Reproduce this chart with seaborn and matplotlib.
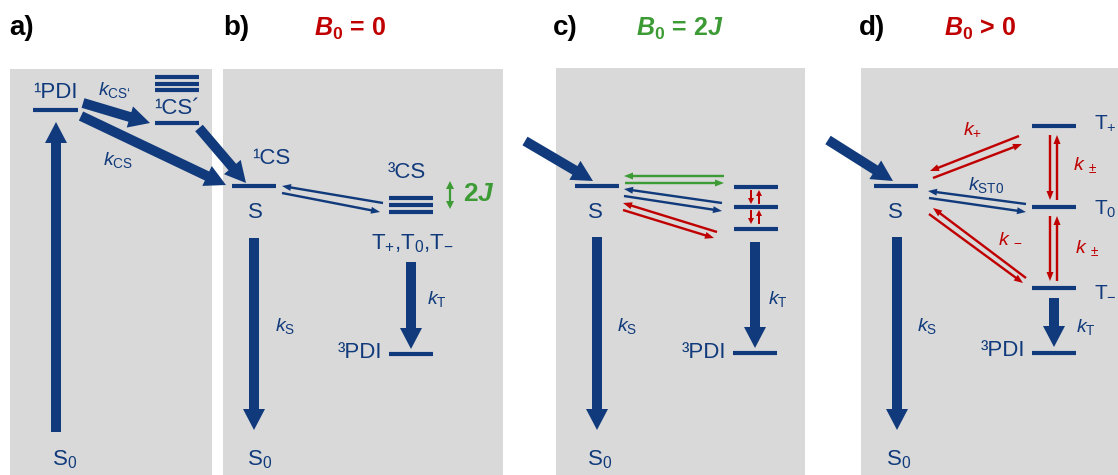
import matplotlib
matplotlib.use("Agg")
import matplotlib.pyplot as plt
import pandas as pd
import seaborn as sns

blue = "#103a7b"
red = "#c00000"
green = "#3c9b35"
panel_grey = "#d9d9d9"

# panel boxes (left, right, top) in pixel units
panel_left = [10, 223, 556, 861]
panel_right = [212, 503, 805, 1130]
panel_top = [69, 69, 68, 68]

# energy levels: x start, x end, y
level_x0 = [33, 155, 155, 155, 155, 232, 389, 389, 389, 389,
            575, 734, 734, 734, 733, 874, 1032, 1032, 1032, 1032]
level_x1 = [78, 199, 199, 199, 199, 276, 433, 433, 433, 433,
            619, 778, 778, 778, 777, 918, 1076, 1076, 1076, 1076]
level_y = [110, 77, 84, 90, 123, 186, 198, 205, 212, 354,
           186, 187, 207, 229, 353, 186, 126, 207, 288, 353]

# thick rate arrows (tail -> tip)
big_x0 = [56, 83, 81, 199, 254, 411, 525, 597, 755, 828, 897, 1054]
big_y0 = [432, 103, 116, 128, 238, 262, 141, 237, 242, 140, 237, 298]
big_x1 = [56, 150, 226, 246, 254, 411, 593, 597, 755, 893, 897, 1054]
big_y1 = [122, 123, 185, 183, 430, 349, 181, 430, 348, 181, 430, 347]

# thin transfer arrows (tail -> tip)
thin_x0 = [383, 282, 724, 625, 722, 624, 717, 623, 1019, 933, 1026, 929, 1026, 929,
           1050, 1057, 1050, 1057]
thin_y0 = [203, 193, 176, 183, 203, 196, 232, 210, 136, 178, 204, 198, 278, 214,
           135, 200, 216, 281]
thin_x1 = [282, 380, 624, 724, 624, 722, 623, 714, 930, 1022, 928, 1026, 933, 1023,
           1050, 1057, 1050, 1057]
thin_y1 = [186, 212, 176, 183, 189, 211, 203, 238, 171, 144, 191, 212, 208, 283,
           200, 135, 281, 216]
thin_color = [blue, blue, green, green, blue, blue, red, red, red, red, blue, blue,
              red, red, red, red, red, red]

# little spin flip arrows in panel c
spin_x = [751, 759, 751, 759]
spin_y0 = [190, 204, 210, 224]
spin_y1 = [204, 190, 224, 210]

# text labels: x, y, text, colour, size, ha
labels = [
    (22, 28, "a)", "black", 20, "center"),
    (236, 28, "b)", "black", 20, "center"),
    (565, 28, "c)", "black", 20, "center"),
    (872, 28, "d)", "black", 20, "center"),
    (350, 29, r"$\mathbfit{B}_\mathbf{0}$ = 0", red, 18, "center"),
    (680, 29, r"$\mathbfit{B}_\mathbf{0}$ = 2$\mathbfit{J}$", green, 18, "center"),
    (980, 29, r"$\mathbfit{B}_\mathbf{0}$ > 0", red, 18, "center"),
    (55, 92, "¹PDI", blue, 16, "center"),
    (177, 108, "¹CS´", blue, 16, "center"),
    (98, 90, r"$k_\mathregular{CS‘}$", blue, 14, "left"),
    (103, 160, r"$k_\mathregular{CS}$", blue, 14, "left"),
    (52, 460, r"$\mathregular{S_0}$", blue, 16, "left"),
    (271, 159, "¹CS", blue, 16, "center"),
    (255, 213, "S", blue, 16, "center"),
    (407, 172, "³CS", blue, 16, "center"),
    (463, 194, r"$\mathbf{2}\mathbfit{J}$", green, 19, "left"),
    (413, 244, r"$\mathregular{T_{{+}}{,}T_0{,}T_{{-}}}$", blue, 16, "center"),
    (427, 299, r"$k_\mathregular{T}$", blue, 14, "left"),
    (275, 326, r"$k_\mathregular{S}$", blue, 14, "left"),
    (382, 353, "³PDI", blue, 16, "right"),
    (247, 460, r"$\mathregular{S_0}$", blue, 16, "left"),
    (595, 213, "S", blue, 16, "center"),
    (617, 326, r"$k_\mathregular{S}$", blue, 14, "left"),
    (768, 299, r"$k_\mathregular{T}$", blue, 14, "left"),
    (726, 352, "³PDI", blue, 16, "right"),
    (587, 460, r"$\mathregular{S_0}$", blue, 16, "left"),
    (895, 213, "S", blue, 16, "center"),
    (963, 129, r"$k_\mathregular{+}$", red, 14, "left"),
    (968, 185, r"$k_\mathregular{ST0}$", blue, 14, "left"),
    (1073, 165, r"$k_\mathregular{\ \pm}$", red, 14, "left"),
    (1075, 248, r"$k_\mathregular{\ \pm}$", red, 14, "left"),
    (998, 238, r"$k_\mathregular{\ -}$", red, 14, "left"),
    (1076, 327, r"$k_\mathregular{T}$", blue, 14, "left"),
    (1025, 351, "³PDI", blue, 16, "right"),
    (917, 326, r"$k_\mathregular{S}$", blue, 14, "left"),
    (1094, 123, r"$\mathregular{T_{{+}}}$", blue, 15, "left"),
    (1094, 209, r"$\mathregular{T_0}$", blue, 15, "left"),
    (1094, 290, r"$\mathregular{T_{{-}}}$", blue, 15, "left"),
    (886, 460, r"$\mathregular{S_0}$", blue, 16, "left"),
]

sns.set_theme(style="white")
plt.rcParams["font.family"] = ["Liberation Sans", "DejaVu Sans"]
plt.rcParams["mathtext.fontset"] = "custom"
plt.rcParams["mathtext.rm"] = "Liberation Sans"
plt.rcParams["mathtext.it"] = "Liberation Sans:italic"
plt.rcParams["mathtext.bf"] = "Liberation Sans:bold"
plt.rcParams["mathtext.bfit"] = "Liberation Sans:bold:italic"
plt.rcParams["lines.solid_capstyle"] = "butt"

fig = plt.figure(figsize=(11.18, 4.75), dpi=100)
ax = fig.add_axes([0, 0, 1, 1])

for l, r, t in zip(panel_left, panel_right, panel_top):
    ax.add_patch(plt.Rectangle((l, t), r - l, 480 - t, color=panel_grey, lw=0, zorder=0))

levels = pd.DataFrame({
    "x": level_x0 + level_x1,
    "y": level_y + level_y,
    "id": list(range(len(level_y))) * 2,
})
sns.lineplot(data=levels, x="x", y="y", units="id", estimator=None, sort=False,
             color=blue, lw=3, ax=ax, zorder=3)

for x0, y0, x1, y1 in zip(big_x0, big_y0, big_x1, big_y1):
    ax.arrow(x0, y0, x1 - x0, y1 - y0, width=10, head_width=22, head_length=21,
             length_includes_head=True, color=blue, lw=0, zorder=4)

for x0, y0, x1, y1, c in zip(thin_x0, thin_y0, thin_x1, thin_y1, thin_color):
    ax.arrow(x0, y0, x1 - x0, y1 - y0, width=2.4, head_width=7, head_length=9,
             length_includes_head=True, color=c, lw=0, zorder=4)

for x, y0, y1 in zip(spin_x, spin_y0, spin_y1):
    ax.arrow(x, y0, 0, y1 - y0, width=2, head_width=6, head_length=6,
             length_includes_head=True, color=red, lw=0, zorder=4)

# 2J splitting marker
for y1 in (181, 209):
    ax.arrow(450, 195, 0, y1 - 195, width=2.2, head_width=8, head_length=8,
             length_includes_head=True, color=green, lw=0, zorder=4)

for x, y, s, c, size, ha in labels:
    weight = "bold" if c == "black" or size >= 18 else "normal"
    ax.text(x, y, s, color=c, fontsize=size, ha=ha, va="center",
            fontweight=weight, zorder=5)

ax.set_xlim(0, 1118)
ax.set_ylim(475, 0)
ax.axis("off")
fig.savefig("out.png", dpi=100, facecolor="white")
